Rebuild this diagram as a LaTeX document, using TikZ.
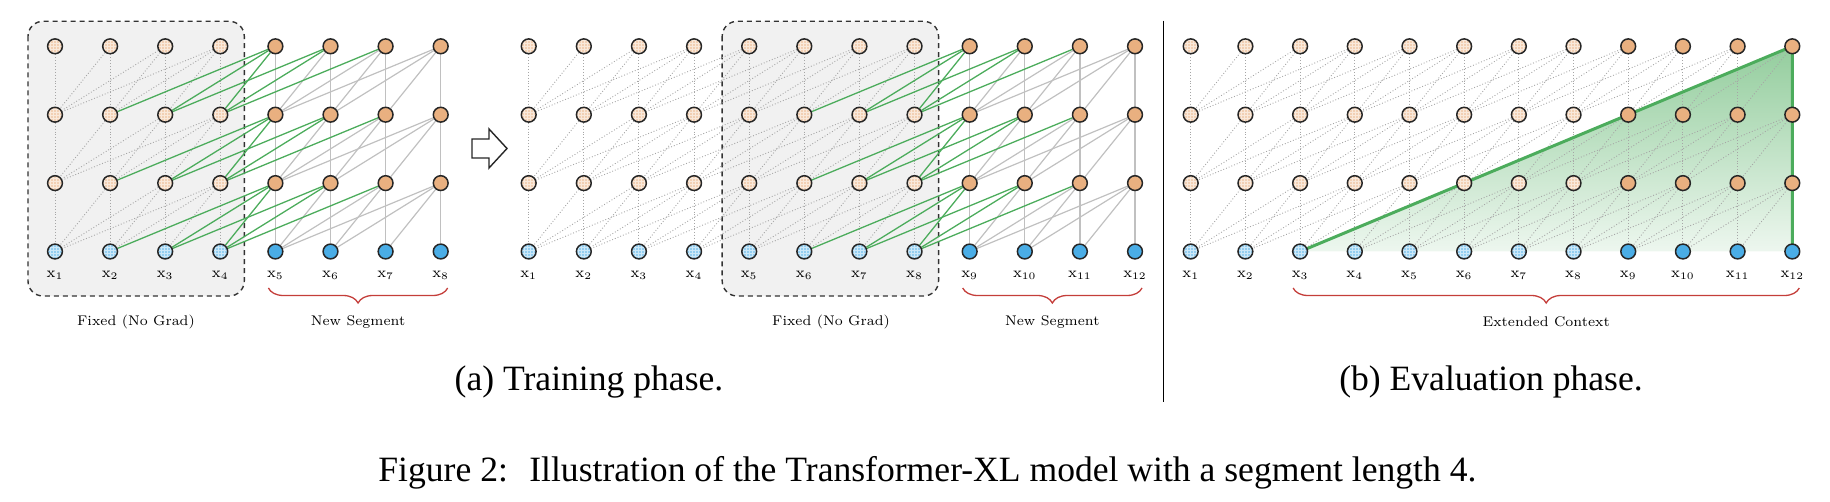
\documentclass[tikz,border=0pt]{standalone}
\usepackage{fontspec}
\newfontfamily\capfont{Liberation Serif}
\usetikzlibrary{patterns,decorations.pathreplacing}

\pgfdeclarelayer{back}
\pgfdeclarelayer{links}
\pgfsetlayers{back,links,main}

\pgfdeclarepatternformonly{finedots}{\pgfpointorigin}{\pgfqpoint{1pt}{1pt}}{\pgfqpoint{1.5pt}{1.5pt}}{%
  \pgfpathcircle{\pgfqpoint{0.5pt}{0.5pt}}{0.4pt}\pgfusepath{fill}}

\definecolor{hidorange}{RGB}{233,176,128}
\definecolor{inblue}{RGB}{74,173,230}
\definecolor{attgreen}{RGB}{76,172,92}
\definecolor{linkgray}{RGB}{192,192,192}
\definecolor{bracered}{RGB}{196,62,58}
\definecolor{boxgray}{RGB}{241,241,241}

\tikzset{
  unit/.style={circle, draw=black!85, line width=0.75pt, minimum size=7.4pt, inner sep=0pt},
  hid/.style={unit, fill=hidorange},
  inp/.style={unit, fill=inblue},
  oldhid/.style={unit, preaction={fill=hidorange!28}, pattern=finedots, pattern color=hidorange!90},
  oldinp/.style={unit, preaction={fill=inblue!28}, pattern=finedots, pattern color=inblue!90},
  memlink/.style={draw=black!35, line width=0.45pt, densely dotted},
  seglink/.style={draw=linkgray, line width=0.6pt},
  gradlink/.style={draw=attgreen, line width=0.65pt},
  tokname/.style={font=\fontsize{7.4}{9}\selectfont, inner sep=0pt},
  segtext/.style={font=\fontsize{7}{8.5}\selectfont, inner sep=0pt},
  captext/.style={font=\capfont\fontsize{17.8}{21}\selectfont, inner sep=0pt},
  fixbox/.style={draw=black!80, fill=boxgray, line width=0.7pt, dash pattern=on 2.5pt off 2pt, rounded corners=7.5pt},
  segbrace/.style={draw=bracered, line width=0.65pt, decorate, decoration={brace, amplitude=7.5pt, mirror}},
  ctxfill/.style={top color=attgreen!60!white, bottom color=attgreen!10!white},
  ctxline/.style={draw=attgreen, line width=1.5pt, line join=round},
  nextarrow/.style={draw=black!85, fill=white, line width=0.7pt}
}

% #1 prefix, #2 columns, #3 last cached column, #4 first x, #5 step
\newcommand{\tokgrid}[5]{%
  \foreach \i in {1,...,#2}{
    \foreach \lay in {0,...,3}{
      \ifnum\lay=0 \def\kind{inp}\else\def\kind{hid}\fi
      \ifnum\i>#3 \else\edef\kind{old\kind}\fi
      \node[\kind] (#1\i-\lay) at ({#4+#5*(\i-1)},{251.5-68.4*\lay}) {};
    }
    \node[tokname] (#1x\i) at ({#4+#5*(\i-1)},275) {$\mathrm{x}_{\i}$};
  }}

% #1 prefix, #2 columns, #3 last fixed column
\newcommand{\tokedges}[3]{%
  \begin{pgfonlayer}{links}
  \foreach \i in {1,...,#2}{
    \foreach \lay in {1,2,3}{
      \foreach \d in {0,...,3}{
        \pgfmathtruncatemacro\j{\i-\d}
        \pgfmathtruncatemacro\prev{\lay-1}
        \ifnum\j>0
          \ifnum\i>#3
            \ifnum\j>#3 \def\how{seglink}\else\def\how{gradlink}\fi
          \else\def\how{memlink}\fi
          \draw[\how] (#1\i-\lay) -- (#1\j-\prev);
        \fi
      }}}
  \end{pgfonlayer}}

\begin{document}
\begin{tikzpicture}[x=0.5pt,y=-0.5pt]
\useasboundingbox (0,0) rectangle (1830,502);

% (a) training, first segment
\tokgrid{a}{8}{4}{55}{55.1}
\tokedges{a}{8}{4}
% (a) training, next segment
\tokgrid{b}{12}{8}{528.7}{55.12}
\tokedges{b}{12}{8}
% (b) evaluation
\tokgrid{e}{12}{8}{1190.7}{54.69}
\tokedges{e}{12}{12}

\begin{pgfonlayer}{back}
  \draw[fixbox] ([shift={(-27,-25)}]a1-3.center) rectangle ([shift={(24,44.5)}]a4-0.center);
  \draw[fixbox] ([shift={(-27,-25)}]b5-3.center) rectangle ([shift={(24,44.5)}]b8-0.center);
  \shade[ctxfill] (e3-0.center) -- (e12-3.center) -- (e12-0.center) -- cycle;
\end{pgfonlayer}
\begin{pgfonlayer}{links}
  \draw[ctxline] (e3-0.center) -- (e12-3.center) -- (e12-0.center);
\end{pgfonlayer}

\node[segtext] (fixA) at (136,322) {Fixed (No Grad)};
\node[segtext] (fixB) at (831,322) {Fixed (No Grad)};
\draw[segbrace] ([shift={(-7,36.5)}]a5-0.center) -- ([shift={(7,36.5)}]a8-0.center)
  node[segtext, midway, yshift=-17pt] (newA) {New Segment};
\draw[segbrace] ([shift={(-7,36.5)}]b9-0.center) -- ([shift={(7,36.5)}]b12-0.center)
  node[segtext, midway, yshift=-17pt] (newB) {New Segment};
\draw[segbrace] ([shift={(-7,36.5)}]e3-0.center) -- ([shift={(7,36.5)}]e12-0.center)
  node[segtext, midway, yshift=-17pt] (ctx) {Extended Context};

% step arrow and divider
\draw[nextarrow] (472,139) -- (489,139) -- (489,129) -- (507,148.5) -- (489,168) -- (489,158) -- (472,158) -- cycle;
\draw[line width=0.75pt] (1163.5,20.7) -- (1163.5,401.7);

\node[captext, anchor=base] (capA) at (589,390.7) {(a) Training phase.};
\node[captext, anchor=base] (capB) at (1491,390.7) {(b) Evaluation phase.};
\node[captext, anchor=base west] (fig) at (378,481.7)
  {Figure 2:\hspace{0.6em}Illustration of the Transformer-XL model with a segment length 4.};
\end{tikzpicture}
\end{document}
